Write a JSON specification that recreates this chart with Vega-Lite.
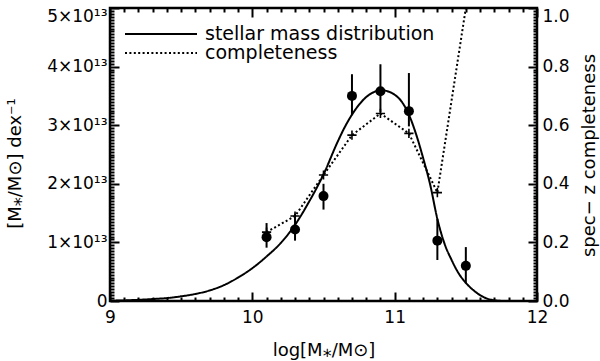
{
  "$schema": "https://vega.github.io/schema/vega-lite/v6.json",
  "width": 427,
  "height": 293,
  "autosize": {"type": "none"},
  "padding": {"left": 110, "top": 8, "right": 63, "bottom": 60},
  "background": "white",
  "config": {
    "view": {"stroke": "black", "strokeWidth": 2.5},
    "axis": {
      "labelFont": "DejaVu Sans", "labelFontSize": 17, "labelColor": "black",
      "titleFont": "DejaVu Sans", "titleFontSize": 18, "titleFontWeight": "normal", "titleColor": "black",
      "domain": false, "grid": false
    }
  },
  "datasets": {
    "curve": [
      {"logM": 9.0, "dens": 0.005}, {"logM": 9.1, "dens": 0.01}, {"logM": 9.2, "dens": 0.02},
      {"logM": 9.3, "dens": 0.033}, {"logM": 9.4, "dens": 0.05}, {"logM": 9.5, "dens": 0.08},
      {"logM": 9.6, "dens": 0.12}, {"logM": 9.7, "dens": 0.18}, {"logM": 9.8, "dens": 0.27},
      {"logM": 9.9, "dens": 0.4}, {"logM": 10.0, "dens": 0.56}, {"logM": 10.1, "dens": 0.76},
      {"logM": 10.2, "dens": 0.99}, {"logM": 10.3, "dens": 1.3}, {"logM": 10.4, "dens": 1.7},
      {"logM": 10.5, "dens": 2.16}, {"logM": 10.6, "dens": 2.72}, {"logM": 10.65, "dens": 2.97},
      {"logM": 10.7, "dens": 3.18}, {"logM": 10.75, "dens": 3.35}, {"logM": 10.8, "dens": 3.48},
      {"logM": 10.85, "dens": 3.56}, {"logM": 10.9, "dens": 3.6}, {"logM": 10.95, "dens": 3.58},
      {"logM": 11.0, "dens": 3.52}, {"logM": 11.05, "dens": 3.4}, {"logM": 11.1, "dens": 3.18},
      {"logM": 11.15, "dens": 2.85}, {"logM": 11.2, "dens": 2.44}, {"logM": 11.25, "dens": 1.98},
      {"logM": 11.3, "dens": 1.4}, {"logM": 11.35, "dens": 0.98}, {"logM": 11.4, "dens": 0.7},
      {"logM": 11.45, "dens": 0.47}, {"logM": 11.5, "dens": 0.31}, {"logM": 11.55, "dens": 0.19},
      {"logM": 11.6, "dens": 0.1}, {"logM": 11.65, "dens": 0.04}, {"logM": 11.7, "dens": 0.012},
      {"logM": 11.75, "dens": 0.002}, {"logM": 11.8, "dens": 0.0}, {"logM": 12.0, "dens": 0.0}
    ],
    "comp": [
      {"logM": 10.1, "completeness": 0.235}, {"logM": 10.3, "completeness": 0.29},
      {"logM": 10.5, "completeness": 0.43}, {"logM": 10.7, "completeness": 0.566},
      {"logM": 10.9, "completeness": 0.64}, {"logM": 11.1, "completeness": 0.572},
      {"logM": 11.3, "completeness": 0.37}, {"logM": 11.5, "completeness": 1.0}
    ],
    "pts": [
      {"logM": 10.1, "dens": 1.09, "lo": 0.91, "hi": 1.33},
      {"logM": 10.3, "dens": 1.22, "lo": 1.03, "hi": 1.49},
      {"logM": 10.5, "dens": 1.79, "lo": 1.56, "hi": 2.0},
      {"logM": 10.7, "dens": 3.5, "lo": 3.17, "hi": 3.87},
      {"logM": 10.9, "dens": 3.58, "lo": 3.22, "hi": 4.04},
      {"logM": 11.1, "dens": 3.24, "lo": 2.98, "hi": 3.89},
      {"logM": 11.3, "dens": 1.03, "lo": 0.7, "hi": 1.4},
      {"logM": 11.5, "dens": 0.6, "lo": 0.3, "hi": 0.92}
    ]
  },
  "layer": [
    {
      "data": {"name": "curve"},
      "mark": {"type": "line", "color": "black", "strokeWidth": 2, "interpolate": "monotone"},
      "encoding": {
        "x": {"field": "logM", "type": "quantitative",
          "scale": {"domain": [9, 12], "nice": false, "zero": false},
          "axis": {"orient": "bottom",
            "values": [9.0,9.1,9.2,9.3,9.4,9.5,9.6,9.7,9.8,9.9,10.0,10.1,10.2,10.3,10.4,10.5,10.6,10.7,10.8,10.9,11.0,11.1,11.2,11.3,11.4,11.5,11.6,11.7,11.8,11.9,12.0],
            "ticks": true, "tickWidth": 2, "tickColor": "black",
            "tickSize": {"condition": {"test": "abs(datum.value - round(datum.value)) < 0.001", "value": -9}, "value": -4},
            "labelExpr": "abs(datum.value - round(datum.value)) < 0.001 ? format(datum.value, 'd') : ''",
            "labelPadding": 17, "labelFlush": false, "labelOverlap": false,
            "title": "log[M⁎/M⊙]", "titleY": 40, "titleBaseline": "top"}},
        "y": {"field": "dens", "type": "quantitative",
          "scale": {"domain": [0, 5], "nice": false, "zero": false},
          "axis": {"orient": "left",
            "values": [0,0.05,0.1,0.15,0.2,0.25,0.3,0.35,0.4,0.45,0.5,0.55,0.6,0.65,0.7,0.75,0.8,0.85,0.9,0.95,1,1.05,1.1,1.15,1.2,1.25,1.3,1.35,1.4,1.45,1.5,1.55,1.6,1.65,1.7,1.75,1.8,1.85,1.9,1.95,2,2.05,2.1,2.15,2.2,2.25,2.3,2.35,2.4,2.45,2.5,2.55,2.6,2.65,2.7,2.75,2.8,2.85,2.9,2.95,3,3.05,3.1,3.15,3.2,3.25,3.3,3.35,3.4,3.45,3.5,3.55,3.6,3.65,3.7,3.75,3.8,3.85,3.9,3.95,4,4.05,4.1,4.15,4.2,4.25,4.3,4.35,4.4,4.45,4.5,4.55,4.6,4.65,4.7,4.75,4.8,4.85,4.9,4.95,5],
            "ticks": true, "tickWidth": 2, "tickColor": "black",
            "tickSize": {"condition": {"test": "abs(datum.value - round(datum.value)) < 0.001", "value": -9}, "value": -4},
            "labelExpr": "abs(datum.value - round(datum.value)) < 0.001 ? (round(datum.value) == 0 ? '0' : round(datum.value) + '×10¹³') : ''",
            "labelPadding": 12, "labelFlush": false, "labelOverlap": false,
            "labelBaseline": {"condition": {"test": "datum.value == 5", "value": "top"}, "value": "middle"},
            "title": "[M⁎/M⊙] dex⁻¹", "titleX": -95, "titleY": 155, "titleBaseline": "middle", "titleAlign": "center", "titleAngle": 270}},
        "strokeDash": {"datum": "stellar mass distribution", "type": "nominal",
          "scale": {"domain": ["stellar mass distribution"], "range": [[1, 0]]},
          "legend": {"orient": "none", "legendX": 14, "legendY": -11, "title": null,
            "symbolType": "stroke", "symbolSize": 5184, "symbolStrokeWidth": 2, "symbolStrokeColor": "black",
            "labelFont": "DejaVu Sans", "labelFontSize": 19, "labelColor": "black", "labelOffset": 7, "labelLimit": 400,
            "padding": 0}}
      }
    },
    {
      "data": {"name": "comp"},
      "mark": {"type": "line", "color": "black", "strokeDash": [2, 2.4], "clip": true},
      "encoding": {
        "x": {"field": "logM", "type": "quantitative",
          "scale": {"domain": [9, 12], "nice": false, "zero": false},
          "axis": {"orient": "top",
            "values": [9.0,9.1,9.2,9.3,9.4,9.5,9.6,9.7,9.8,9.9,10.0,10.1,10.2,10.3,10.4,10.5,10.6,10.7,10.8,10.9,11.0,11.1,11.2,11.3,11.4,11.5,11.6,11.7,11.8,11.9,12.0],
            "ticks": true, "tickWidth": 2, "tickColor": "black",
            "tickSize": {"condition": {"test": "abs(datum.value - round(datum.value)) < 0.001", "value": -9}, "value": -4},
            "labels": false, "title": null}},
        "y": {"field": "completeness", "type": "quantitative",
          "scale": {"domain": [0, 1], "nice": false, "zero": false},
          "axis": {"orient": "right",
            "values": [0,0.01,0.02,0.03,0.04,0.05,0.06,0.07,0.08,0.09,0.1,0.11,0.12,0.13,0.14,0.15,0.16,0.17,0.18,0.19,0.2,0.21,0.22,0.23,0.24,0.25,0.26,0.27,0.28,0.29,0.3,0.31,0.32,0.33,0.34,0.35,0.36,0.37,0.38,0.39,0.4,0.41,0.42,0.43,0.44,0.45,0.46,0.47,0.48,0.49,0.5,0.51,0.52,0.53,0.54,0.55,0.56,0.57,0.58,0.59,0.6,0.61,0.62,0.63,0.64,0.65,0.66,0.67,0.68,0.69,0.7,0.71,0.72,0.73,0.74,0.75,0.76,0.77,0.78,0.79,0.8,0.81,0.82,0.83,0.84,0.85,0.86,0.87,0.88,0.89,0.9,0.91,0.92,0.93,0.94,0.95,0.96,0.97,0.98,0.99,1],
            "ticks": true, "tickWidth": 2, "tickColor": "black",
            "tickSize": {"condition": {"test": "abs(datum.value * 5 - round(datum.value * 5)) < 0.001", "value": -9}, "value": -4},
            "labelExpr": "abs(datum.value * 5 - round(datum.value * 5)) < 0.001 ? format(datum.value, '.1f') : ''",
            "labelPadding": 14, "labelFlush": false, "labelOverlap": false,
            "labelBaseline": {"condition": {"test": "datum.value == 1", "value": "top"}, "value": "middle"},
            "title": "spec− z completeness", "titleX": 52, "titleY": 147, "titleBaseline": "middle", "titleAlign": "center", "titleAngle": 270}},
        "strokeWidth": {"datum": "completeness", "type": "ordinal",
          "scale": {"domain": ["completeness"], "range": [2, 2]},
          "legend": {"orient": "none", "legendX": 14, "legendY": 8, "title": null,
            "symbolType": "stroke", "symbolSize": 5184, "symbolStrokeColor": "black", "symbolDash": [2, 2.4],
            "labelFont": "DejaVu Sans", "labelFontSize": 19, "labelColor": "black", "labelOffset": 7, "labelLimit": 400,
            "padding": 0}}
      }
    },
    {
      "data": {"name": "comp"},
      "transform": [{"filter": "datum.logM < 11.4"}],
      "mark": {"type": "point", "shape": "M-1,0L1,0M0,-1L0,1", "size": 85, "filled": false, "color": "black", "strokeWidth": 1.6, "opacity": 1},
      "encoding": {
        "x": {"field": "logM", "type": "quantitative",
          "scale": {"domain": [9, 12], "nice": false, "zero": false}, "axis": null},
        "y": {"field": "completeness", "type": "quantitative",
          "scale": {"domain": [0, 1], "nice": false, "zero": false}, "axis": null}
      }
    },
    {
      "data": {"name": "pts"},
      "mark": {"type": "rule", "color": "black", "strokeWidth": 2},
      "encoding": {
        "x": {"field": "logM", "type": "quantitative",
          "scale": {"domain": [9, 12], "nice": false, "zero": false}, "axis": null},
        "y": {"field": "hi", "type": "quantitative",
          "scale": {"domain": [0, 5], "nice": false, "zero": false}, "axis": null},
        "y2": {"field": "lo"}
      }
    },
    {
      "data": {"name": "pts"},
      "mark": {"type": "point", "shape": "circle", "filled": true, "size": 100, "color": "black", "opacity": 1},
      "encoding": {
        "x": {"field": "logM", "type": "quantitative",
          "scale": {"domain": [9, 12], "nice": false, "zero": false}, "axis": null},
        "y": {"field": "dens", "type": "quantitative",
          "scale": {"domain": [0, 5], "nice": false, "zero": false}, "axis": null}
      }
    }
  ],
  "resolve": {"scale": {"y": "independent"}, "axis": {"x": "independent", "y": "independent"}, "legend": {"strokeDash": "independent", "strokeWidth": "independent"}}
}
